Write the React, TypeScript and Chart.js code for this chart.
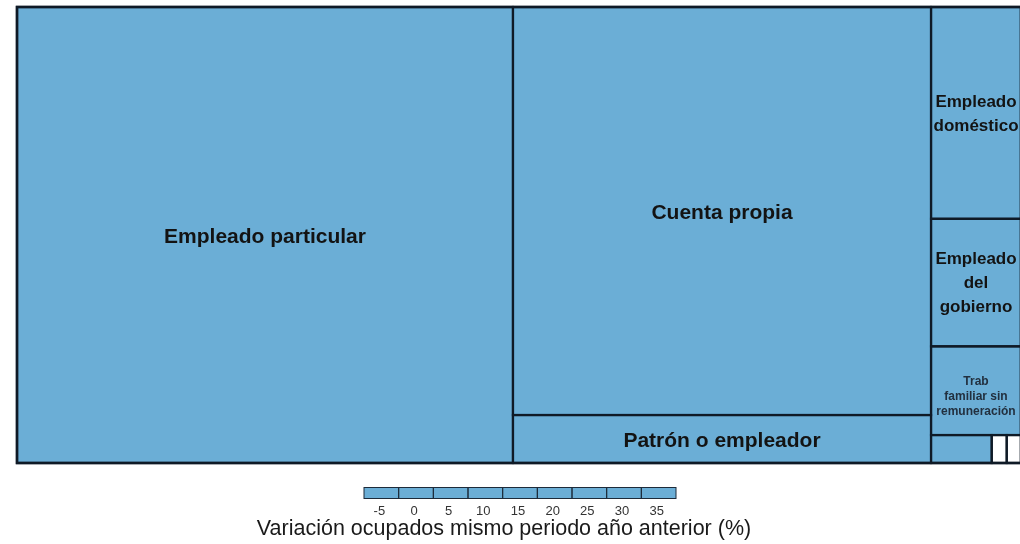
import React, { useEffect, useRef } from "react";
import { Chart, registerables } from "chart.js";

Chart.register(...registerables);

// ---- data ----
const categories = [
  "Empleado particular",
  "Cuenta propia",
  "Patrón o empleador",
  "Empleado doméstico",
  "Empleado del gobierno",
  "Trab familiar sin remuneración",
  "Jornalero o peón",
  "Trab sin remuneración en otras empresas",
  "Otro",
];
// ocupados (miles) -> area of each cell
const ocupados = [2267, 1710, 201, 191, 115, 80, 17, 4.2, 4.0];
// label lines shown inside each cell
const labelLines: string[][] = [
  ["Empleado particular"],
  ["Cuenta propia"],
  ["Patrón o empleador"],
  ["Empleado", "doméstico"],
  ["Empleado", "del", "gobierno"],
  ["Trab", "familiar sin", "remuneración"],
  [],
  [],
  [],
];
// cells without a variation value (drawn blank)
const sinDato = [false, false, false, false, false, false, false, true, true];
const legendTicks = [-5, 0, 5, 10, 15, 20, 25, 30, 35];
const legendTitle = "Variación ocupados mismo periodo año anterior (%)";

// ---- styles ----
const FILL = "#6baed6";
const BORDER = "#0f1a26";
const FONT = "'Liberation Sans', Arial, sans-serif";

type Cell = { i: number; v: number; x: number; y: number; w: number; h: number };

// pivot-by-size treemap layout
function pivotLayout(items: { i: number; v: number }[], x: number, y: number, w: number, h: number, out: Cell[]) {
  if (items.length === 0) return;
  if (items.length === 1) {
    out.push({ ...items[0], x, y, w, h });
    return;
  }
  const total = items.reduce((s, d) => s + d.v, 0);
  const pivot = items[0];
  const rest = items.slice(1);
  const horiz = w >= h;
  let bestK = 0;
  let bestA = Infinity;
  for (let k = 0; k <= rest.length; k++) {
    const s2 = rest.slice(0, k).reduce((s, d) => s + d.v, 0);
    const frac = (pivot.v + s2) / total;
    let a;
    if (horiz) {
      const cw = w * frac;
      const ph = (h * pivot.v) / (pivot.v + s2);
      a = Math.max(cw / ph, ph / cw);
    } else {
      const rh = h * frac;
      const pw = (w * pivot.v) / (pivot.v + s2);
      a = Math.max(rh / pw, pw / rh);
    }
    if (a < bestA) {
      bestA = a;
      bestK = k;
    }
  }
  const L2 = rest.slice(0, bestK);
  const L3 = rest.slice(bestK);
  const s2 = L2.reduce((s, d) => s + d.v, 0);
  const frac = (pivot.v + s2) / total;
  if (horiz) {
    const cw = w * frac;
    const ph = (h * pivot.v) / (pivot.v + s2);
    out.push({ ...pivot, x, y, w: cw, h: ph });
    pivotLayout(L2, x, y + ph, cw, h - ph, out);
    pivotLayout(L3, x + cw, y, w - cw, h, out);
  } else {
    const rh = h * frac;
    const pw = (w * pivot.v) / (pivot.v + s2);
    out.push({ ...pivot, x, y, w: pw, h: rh });
    pivotLayout(L2, x + pw, y, w - pw, rh, out);
    pivotLayout(L3, x, y + rh, w, h - rh, out);
  }
}

const treemapPlugin = {
  id: "treemapPlugin",
  afterDatasetsDraw(chart: any) {
    const { ctx, chartArea, scales } = chart;
    const xs = scales.x;
    const ys = scales.y;
    const W = chartArea.right - chartArea.left;
    const H = chartArea.bottom - chartArea.top;
    const items = ocupados.map((v, i) => ({ i, v })).sort((a, b) => b.v - a.v);
    const cells: Cell[] = [];
    pivotLayout(items, 0, 0, W, H, cells);

    const px = (c: Cell) => {
      const x0 = xs.getPixelForValue(c.x / W);
      const x1 = xs.getPixelForValue((c.x + c.w) / W);
      const y0 = ys.getPixelForValue(c.y / H);
      const y1 = ys.getPixelForValue((c.y + c.h) / H);
      return { x0, x1, y0, y1 };
    };

    ctx.save();
    for (const c of cells) {
      const { x0, x1, y0, y1 } = px(c);
      ctx.fillStyle = sinDato[c.i] ? "#ffffff" : FILL;
      ctx.fillRect(x0, y0, x1 - x0, y1 - y0);
    }
    ctx.strokeStyle = BORDER;
    ctx.lineWidth = 2.2;
    for (const c of cells) {
      const { x0, x1, y0, y1 } = px(c);
      ctx.strokeRect(x0, y0, x1 - x0, y1 - y0);
    }
    ctx.lineWidth = 2.6;
    ctx.strokeRect(chartArea.left, chartArea.top, W, H);

    // labels
    ctx.textAlign = "center";
    ctx.textBaseline = "middle";
    for (const c of cells) {
      const lines = labelLines[c.i];
      if (!lines.length) continue;
      const { x0, x1, y0, y1 } = px(c);
      const cw = x1 - x0;
      const ch = y1 - y0;
      let size = 21;
      let lh = 24;
      let color = "#131313";
      let dy = 2;
      if (cw < 200 && ch > 100) {
        size = 17;
        lh = 24;
        dy = 1;
      } else if (cw < 200) {
        size = 12;
        lh = 15;
        color = "#22303f";
        dy = 6;
      }
      ctx.font = `bold ${size}px ${FONT}`;
      ctx.fillStyle = color;
      const cx = (x0 + x1) / 2;
      const cy = (y0 + y1) / 2 + dy;
      const startY = cy - ((lines.length - 1) * lh) / 2;
      lines.forEach((t, k) => ctx.fillText(t, cx, startY + k * lh));
    }

    // colour legend
    const n = legendTicks.length;
    const lx0 = 364;
    const lx1 = 676;
    const ly0 = 487.5;
    const ly1 = 498.5;
    const bw = (lx1 - lx0) / n;
    ctx.fillStyle = FILL;
    ctx.fillRect(lx0, ly0, lx1 - lx0, ly1 - ly0);
    ctx.strokeStyle = "#1d2b3a";
    ctx.lineWidth = 1;
    for (let k = 0; k < n; k++) {
      ctx.strokeRect(lx0 + k * bw, ly0, bw, ly1 - ly0);
    }
    ctx.fillStyle = "#333333";
    ctx.font = `13px ${FONT}`;
    ctx.textBaseline = "alphabetic";
    legendTicks.forEach((t, k) => {
      ctx.fillText(String(t), lx0 + (k + 0.5) * bw - 2, 514.5);
    });
    ctx.fillStyle = "#1a1a1a";
    ctx.font = `21.5px ${FONT}`;
    ctx.fillText(legendTitle, 504, 535);
    ctx.restore();
  },
};

export default function App() {
  const ref = useRef<HTMLCanvasElement | null>(null);
  useEffect(() => {
    if (!ref.current) return;
    const chart = new Chart(ref.current, {
      type: "scatter",
      data: {
        labels: categories,
        datasets: [{ label: "ocupados", data: [], pointRadius: 0 }],
      },
      options: {
        animation: false,
        responsive: false,
        layout: { padding: { left: 17, top: 7, right: 0, bottom: 81 } },
        scales: {
          x: { type: "linear", min: 0, max: 1, display: false },
          y: { type: "linear", min: 0, max: 1, reverse: true, display: false },
        },
        plugins: { legend: { display: false }, tooltip: { enabled: false }, title: { display: false } },
      },
      plugins: [treemapPlugin],
    });
    return () => chart.destroy();
  }, []);
  return (
    <div style={{ position: "fixed", left: 0, top: 0, width: 1020, height: 544, overflow: "hidden", background: "#ffffff" }}>
      <canvas ref={ref} width={1021} height={544} style={{ display: "block" }} />
    </div>
  );
}
